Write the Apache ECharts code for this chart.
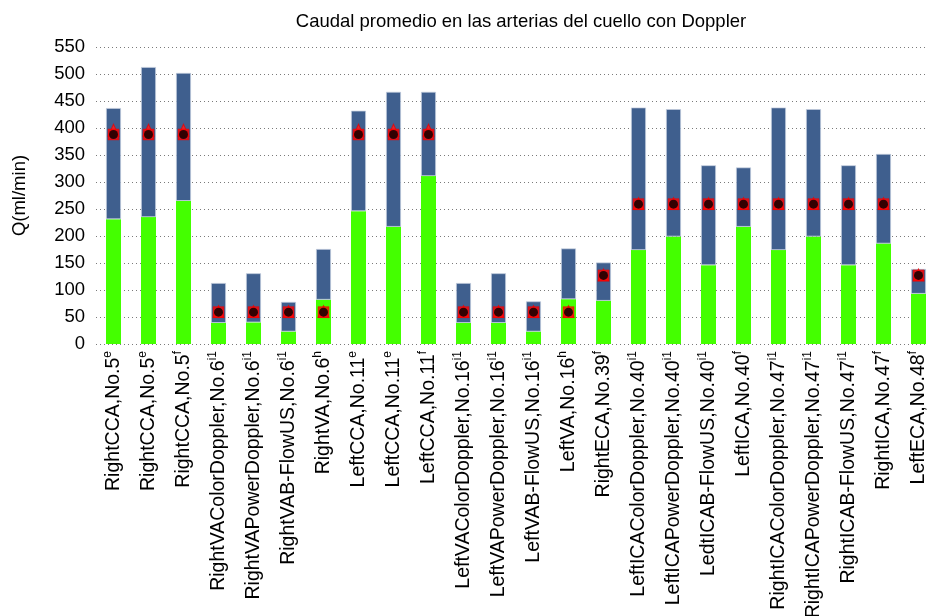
<!DOCTYPE html>
<html>
<head>
<meta charset="utf-8">
<script src="https://cdn.jsdelivr.net/npm/echarts@6/dist/echarts.min.js"></script>
<style>
  html, body { margin: 0; padding: 0; background: #fff; }
  #chart { width: 928px; height: 616px; }
</style>
</head>
<body>
<div id="chart"></div>
<script>
// Vessel / study labels and their superscript reference marks
const vessels = [
  'RightCCA,No.5', 'RightCCA,No.5', 'RightCCA,No.5',
  'RightVAColorDoppler,No.6', 'RightVAPowerDoppler,No.6', 'RightVAB-FlowUS,No.6', 'RightVA,No.6',
  'LeftCCA,No.11', 'LeftCCA,No.11', 'LeftCCA,No.11',
  'LeftVAColorDoppler,No.16', 'LeftVAPowerDoppler,No.16', 'LeftVAB-FlowUS,No.16', 'LeftVA,No.16',
  'RightECA,No.39',
  'LeftICAColorDoppler,No.40', 'LeftICAPowerDoppler,No.40', 'LedtICAB-FlowUS,No.40', 'LeftICA,No.40',
  'RightICAColorDoppler,No.47', 'RightICAPowerDoppler,No.47', 'RightICAB-FlowUS,No.47', 'RightICA,No.47',
  'LeftECA,No.48'
];
const refMarks = [
  'e', 'e', 'f',
  'i1', 'i1', 'i1', 'h',
  'e', 'e', 'f',
  'i1', 'i1', 'i1', 'h',
  'f',
  'i1', 'i1', 'i1', 'f',
  'i1', 'i1', 'i1', 'f',
  'f'
];

// Lower segment of each bar (green), ml/min
const lowerFlow = [231, 235, 265, 39, 40, 23, 82, 246, 217, 311, 39, 39, 23, 83, 80, 174, 199, 146, 217, 174, 199, 146, 186, 93];
// Upper segment stacked on top (blue), ml/min
const upperFlow = [206, 278, 237, 74, 91, 55, 94, 186, 250, 156, 74, 92, 56, 94, 71, 264, 236, 185, 110, 264, 236, 185, 166, 46];

// Reference flow markers
const triangleRef = [396, 396, 396, 60, 60, 60, 60, 396, 396, 396, 60, 60, 60, 60, 128, 260, 260, 260, 260, 260, 260, 260, 260, 128];
const squareRef   = [388, 388, 388, 59, 59, 59, 59, 388, 388, 388, 59, 59, 59, 59, 127, 259, 259, 259, 259, 259, 259, 259, 259, 127];
const circleRef   = [388, 388, 388, 59, 59, 59, 59, 388, 388, 388, 59, 59, 59, 59, 127, 259, 259, 259, 259, 259, 259, 259, 259, 127];

// Y axis ticks
const yMin = 0, yMax = 550, yStep = 50;

const FONT = '"Liberation Sans", Arial, sans-serif';
const categories = vessels.map((v, i) => v + '|' + refMarks[i]);

const chart = echarts.init(document.getElementById('chart'), null, { renderer: 'canvas' });

chart.setOption({
  animation: false,
  backgroundColor: '#ffffff',
  title: {
    text: 'Caudal promedio en las arterias del cuello con Doppler',
    left: 516,
    textAlign: 'center',
    top: 7,
    textStyle: { fontFamily: FONT, fontSize: 18.5, fontWeight: 'normal', color: '#000' }
  },
  grid: { left: 96, top: 47, width: 840, height: 297, outerBoundsMode: 'none', containLabel: false },
  xAxis: {
    type: 'category',
    data: categories,
    axisLine: { show: false },
    axisTick: { show: false },
    axisLabel: {
      rotate: 90,
      interval: 0,
      margin: 7,
      color: '#000',
      fontFamily: FONT,
      fontSize: 19.5,
      formatter: function (val) {
        const parts = val.split('|');
        return '{b|' + parts[0] + '}{s|' + parts[1] + '}';
      },
      rich: {
        b: { fontFamily: FONT, fontSize: 19.5, color: '#000', lineHeight: 24 },
        s: { fontFamily: FONT, fontSize: 12, color: '#000', verticalAlign: 'top', lineHeight: 24 }
      }
    },
    splitLine: { show: false }
  },
  yAxis: {
    type: 'value',
    min: yMin,
    max: yMax,
    interval: yStep,
    name: 'Q(ml/min)',
    nameLocation: 'middle',
    nameGap: 67,
    nameTextStyle: { fontFamily: FONT, fontSize: 18.5, color: '#000' },
    axisLine: { show: false },
    axisTick: { show: false },
    axisLabel: { fontFamily: FONT, fontSize: 18.5, color: '#000', margin: 11 },
    splitLine: { lineStyle: { color: '#7a7a7a', type: [1, 3], width: 1 } }
  },
  series: [
    {
      name: 'lower',
      type: 'bar',
      stack: 'flow',
      barWidth: 15,
      data: lowerFlow,
      itemStyle: { color: '#44ff00' },
      z: 2
    },
    {
      name: 'upper',
      type: 'bar',
      stack: 'flow',
      barWidth: 15,
      data: upperFlow,
      itemStyle: { color: '#3f5f8e', borderColor: 'rgba(195,205,222,0.9)', borderWidth: 0.8 },
      z: 2
    },
    {
      name: 'triangle',
      type: 'scatter',
      symbol: 'triangle',
      symbolSize: [11, 12],
      data: triangleRef,
      itemStyle: { color: '#ff2020', borderColor: '#ee0000', borderWidth: 1 },
      z: 3
    },
    {
      name: 'square',
      type: 'scatter',
      symbol: 'rect',
      symbolSize: 11,
      data: squareRef,
      itemStyle: { color: '#ff0000', borderColor: '#f00000', borderWidth: 0.5 },
      z: 4
    },
    {
      name: 'circle',
      type: 'scatter',
      symbol: 'circle',
      symbolSize: 9,
      data: circleRef,
      itemStyle: { color: '#000000' },
      z: 5
    }
  ]
});
</script>
</body>
</html>
